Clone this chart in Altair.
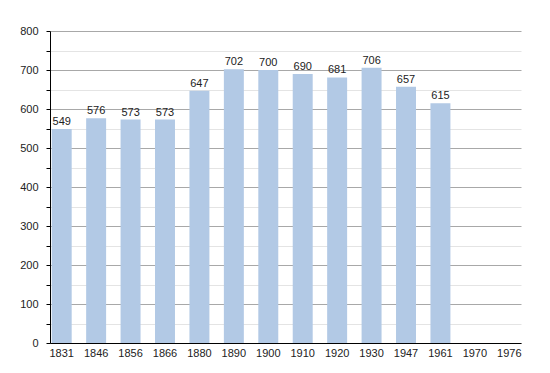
import altair as alt
import pandas as pd

years = ["1831", "1846", "1856", "1866", "1880", "1890", "1900", "1910", "1920", "1930", "1947", "1961", "1970", "1976"]
population = [549, 576, 573, 573, 647, 702, 700, 690, 681, 706, 657, 615, None, None]

df = pd.DataFrame({"year": years, "pop": population})

FONT = "Liberation Sans"

xscale = alt.Scale(domain=years, paddingInner=0.42, paddingOuter=0.05)
x = alt.X("year:N", sort=years, title=None, scale=xscale,
          axis=alt.Axis(labelAngle=0, ticks=False, labelPadding=4, domainColor="#000",
                        labelFont=FONT, labelFontSize=11, labelColor="#222"))
y = alt.Y("pop:Q", title=None,
          scale=alt.Scale(domain=[0, 800], nice=False),
          axis=alt.Axis(values=list(range(0, 801, 50)),
                        labelExpr="datum.value % 100 === 0 ? datum.label : ''",
                        labelOverlap=False,
                        tickSize=4, tickColor="#000", domainColor="#000",
                        labelPadding=8, labelFont=FONT, labelFontSize=11, labelColor="#222",
                        gridColor={"condition": {"test": "datum.value % 100 === 0", "value": "#a8a8a8"}, "value": "#e4e4e4"}))

base = alt.Chart(df).transform_filter("isValid(datum.pop)").encode(x=x, y=y)
bars = base.mark_bar(color="#b2c9e5")
labels = base.mark_text(dy=-7, font=FONT, fontSize=11, color="#222").encode(text="pop:Q")

chart = (bars + labels).properties(
    width=471, height=312,
    autosize=alt.AutoSizeParams(type="none"),
    padding={"left": 42, "top": 23, "right": 21, "bottom": 22},
).configure_view(stroke=None).configure_axis(domainWidth=1)

chart.save("out.html", embed_options={"renderer": "svg", "actions": False})
